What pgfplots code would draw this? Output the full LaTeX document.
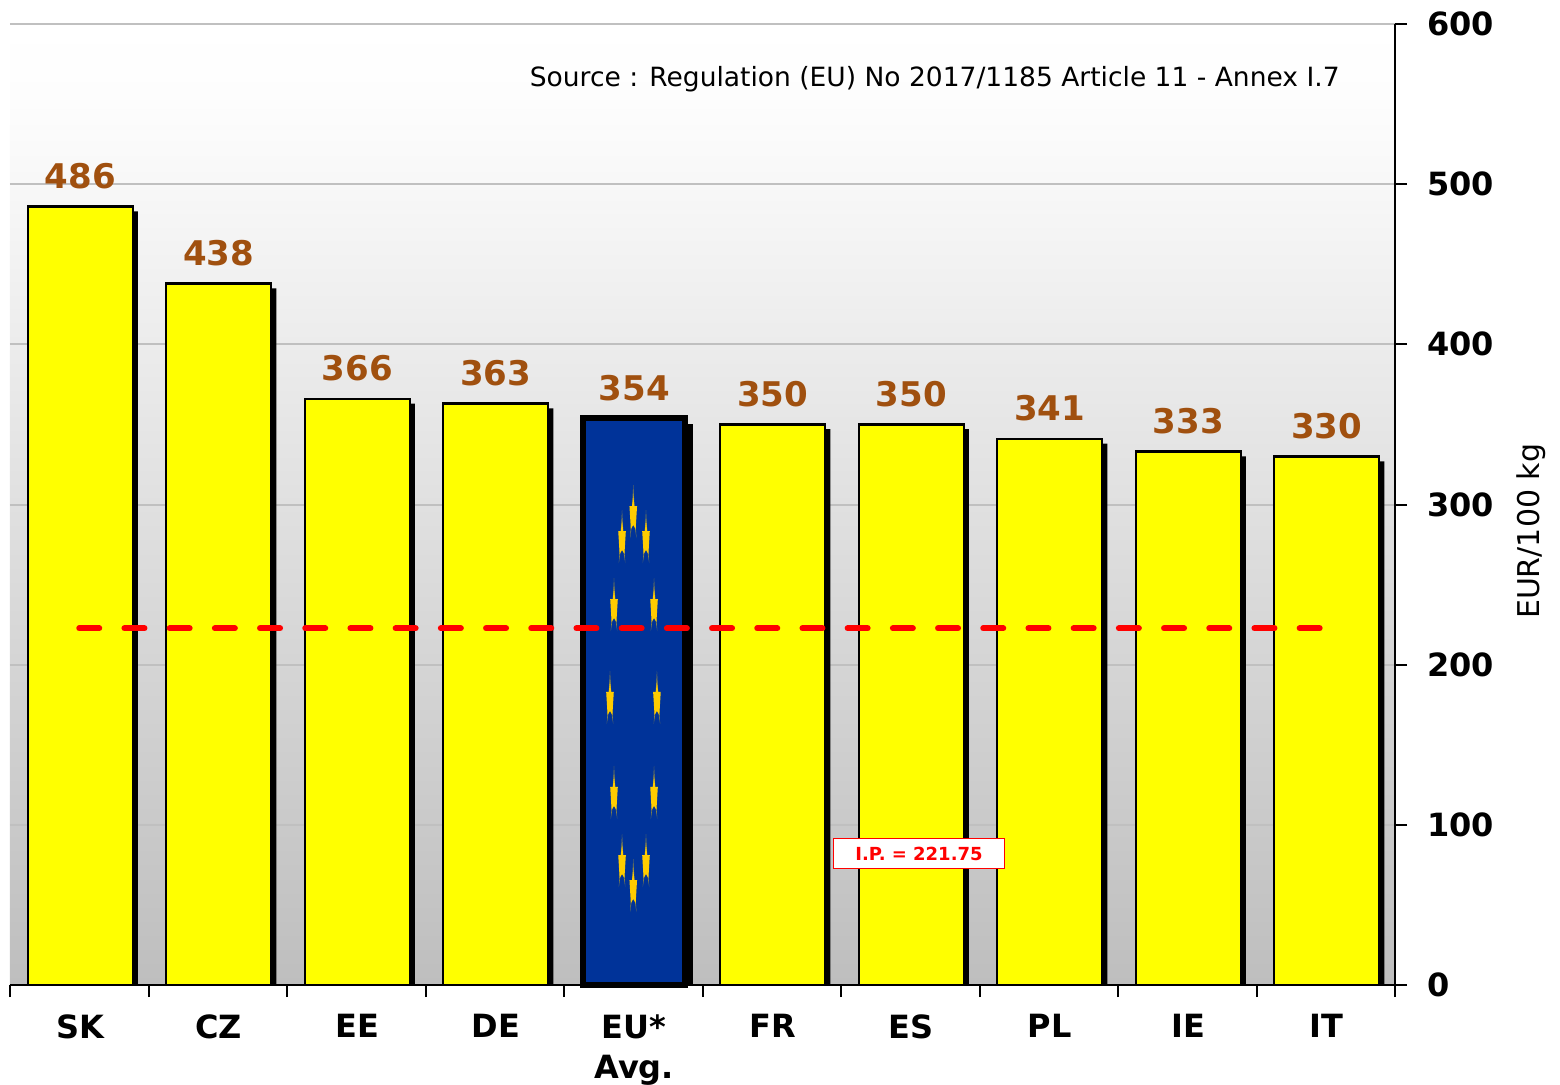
\documentclass[border=0pt]{standalone}
\usepackage{fontspec}
\setmainfont{DejaVu Sans}
\usepackage{pgfplots}
\pgfplotsset{compat=1.18}

\definecolor{labbrown}{HTML}{A0500F}
\definecolor{eublue}{HTML}{003399}
\definecolor{staryel}{HTML}{FFCC00}
\definecolor{gridg}{HTML}{C0C0C0}
\definecolor{baryel}{HTML}{FFFF00}
\definecolor{ipred}{HTML}{FF0000}
\definecolor{bga}{HTML}{BEBEBE}
\definecolor{bgb}{HTML}{D5D5D5}
\definecolor{bgc}{HTML}{E0E0E0}
\definecolor{bgd}{HTML}{ECECEC}
\definecolor{bge}{HTML}{F8F8F8}
\definecolor{bgf}{HTML}{FDFDFD}
\definecolor{bgg}{HTML}{FFFFFF}

% plot background, lighter towards the top
\pgfdeclareverticalshading{plotbg}{100bp}{
  color(0bp)=(bga); color(25bp)=(bga); color(41.9bp)=(bgb); color(50bp)=(bgc);
  color(58.4bp)=(bgd); color(66.9bp)=(bge); color(71bp)=(bgf); color(75bp)=(bgg);
  color(100bp)=(bgg)}

% thin vertical star as it appears on the EU bar
\pgfdeclareplotmark{eustar}{%
  \pgfsetfillcolor{staryel!55!eublue}%
  \pgfpathmoveto{\pgfpoint{0pt}{13.5pt}}%
  \pgfpathlineto{\pgfpoint{0.6pt}{3pt}}%
  \pgfpathlineto{\pgfpoint{-0.6pt}{3pt}}%
  \pgfpathclose
  \pgfpathmoveto{\pgfpoint{-1.6pt}{-13pt}}%
  \pgfpathlineto{\pgfpoint{-0.4pt}{-5pt}}%
  \pgfpathlineto{\pgfpoint{-1.1pt}{-5pt}}%
  \pgfpathclose
  \pgfpathmoveto{\pgfpoint{1.6pt}{-13pt}}%
  \pgfpathlineto{\pgfpoint{0.4pt}{-5pt}}%
  \pgfpathlineto{\pgfpoint{1.1pt}{-5pt}}%
  \pgfpathclose
  \pgfusepathqfill
  \pgfsetfillcolor{staryel}%
  \pgfpathmoveto{\pgfpoint{0pt}{8pt}}%
  \pgfpathlineto{\pgfpoint{0.6pt}{3pt}}%
  \pgfpathlineto{\pgfpoint{1.9pt}{3pt}}%
  \pgfpathlineto{\pgfpoint{1.2pt}{-8.5pt}}%
  \pgfpathlineto{\pgfpoint{0pt}{-6.5pt}}%
  \pgfpathlineto{\pgfpoint{-1.2pt}{-8.5pt}}%
  \pgfpathlineto{\pgfpoint{-1.9pt}{3pt}}%
  \pgfpathlineto{\pgfpoint{-0.6pt}{3pt}}%
  \pgfpathclose
  \pgfusepathqfill
}

\begin{document}
\begin{tikzpicture}
\path[use as bounding box] (-5pt,-49.5pt) rectangle (775pt,492.5pt);
\begin{axis}[
  at={(0pt,0pt)},anchor=south west,
  scale only axis,width=692.5pt,height=480.5pt,
  xmin=-0.5,xmax=9.5,ymin=0,ymax=600,
  axis x line*=bottom,axis y line*=right,
  axis line style={black,line width=1pt},
  xtick={0,1,...,9},
  xticklabels={SK,CZ,EE,DE,{EU*\\Avg.},FR,ES,PL,IE,IT},
  minor xtick={-0.5,0.5,...,9.5},
  ytick={0,100,...,600},
  major x tick style={draw=none},
  minor x tick style={black,line width=1pt},
  y tick style={black,line width=1pt},
  tick align=outside,
  major tick length=6pt,minor tick length=6pt,
  ymajorgrids,grid style={gridg,line width=1pt},
  /pgf/number format/assume math mode=true,
  tick label style={font=\bfseries\fontsize{16}{20}\selectfont},
  xticklabel style={align=center,inner sep=0pt,anchor=north,yshift=-8.5pt,xshift=0.5pt},
  yticklabel style={anchor=west,inner sep=0pt,xshift=10pt},
  ylabel={EUR/100 kg},
  every axis y label/.style={at={(rel axis cs:1.098,0.472)},rotate=90,anchor=center,
    font=\fontsize{15}{17}\selectfont},
  axis background/.style={shading=plotbg},
  clip=false]
% shadows
\addplot[ybar,bar shift=3pt,bar width=52.5pt,fill=black,draw=none] coordinates {
  (0,483) (1,435) (2,363) (3,360) (5,347) (6,347) (7,338) (8,330) (9,327)
};
\addplot[ybar,bar shift=3.5pt,bar width=53pt,fill=black,draw=none] coordinates {(4,350)};
% country bars
\addplot[ybar,bar shift=0.5pt,bar width=52.5pt,fill=baryel,draw=black,line width=1.2pt] coordinates {
  (0,486) (1,438) (2,366) (3,363) (5,350) (6,350) (7,341) (8,333) (9,330)
};
% EU average
\addplot[ybar,bar shift=0.5pt,bar width=51pt,fill=eublue,draw=black,line width=3pt] coordinates {(4,354)};
\addplot[only marks,mark=eustar] coordinates {
  (4.0,295.3) (3.919,279.7) (4.092,279.7) (3.861,237.2) (4.150,237.2)
  (3.832,179.2) (4.171,179.2) (3.861,119.9) (4.150,119.9)
  (3.919,77.4) (4.092,77.4) (4.0,61.8)
};
% intervention price
\addplot[ipred,line width=3pt,line cap=round,dash pattern=on 10pt off 12.6pt] coordinates {(0,222.7) (9,222.7)};
% value labels
\addplot[draw=none,mark=none,nodes near coords,point meta=y,
  every node near coord/.append style={anchor=base,inner sep=0pt,yshift=9pt,xshift=0.5pt,text=labbrown,
    font=\bfseries\fontsize{17}{20}\selectfont}] coordinates {
  (0,486) (1,438) (2,366) (3,363) (4,354) (5,350) (6,350) (7,341) (8,333) (9,330)
};
\node[anchor=east,inner sep=0pt,font=\fontsize{13.25}{16}\selectfont] at (axis cs:9.103,565.7)
  {Source : Regulation (EU) No 2017/1185 Article 11 - Annex I.7};
\node[draw=ipred,fill=white,text=ipred,line width=0.8pt,inner sep=0pt,minimum width=85.5pt,minimum height=15pt,
  font=\bfseries\fontsize{9}{12}\selectfont] at (axis cs:6.063,82.1) {I.P. = 221.75};
\end{axis}
\end{tikzpicture}
\end{document}
